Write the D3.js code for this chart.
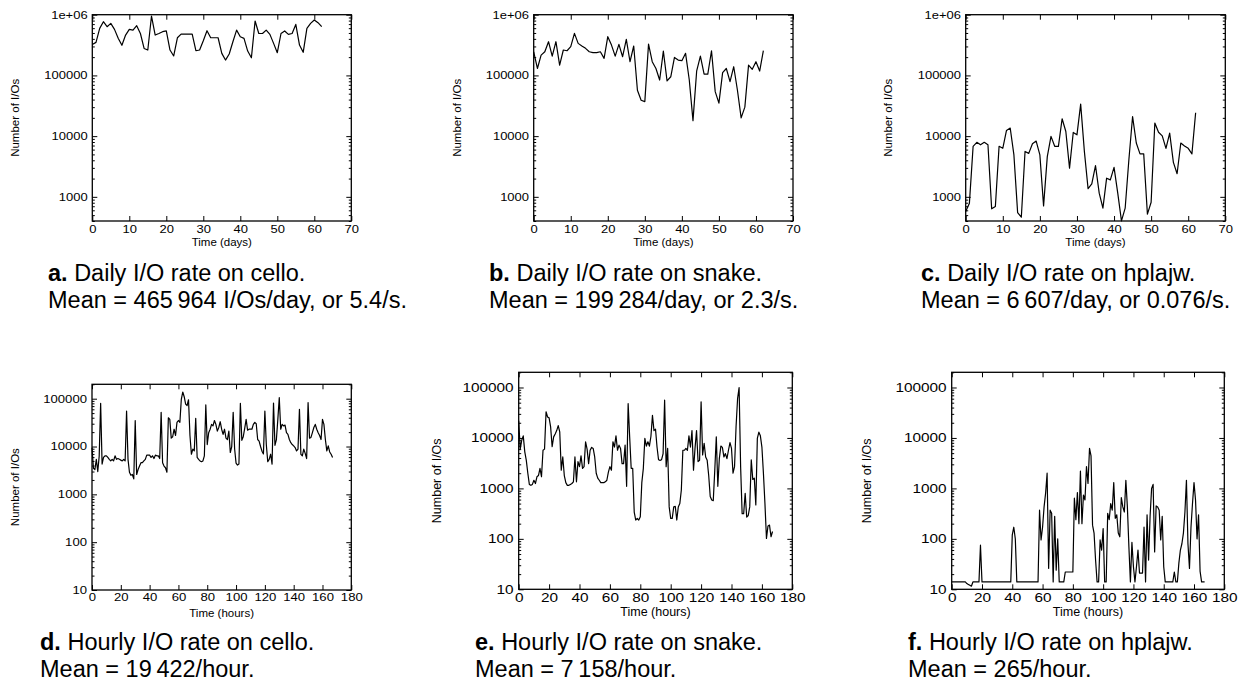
<!DOCTYPE html>
<html>
<head>
<meta charset="utf-8">
<script src="https://cdn.jsdelivr.net/npm/d3@7"></script>
<style>
  body { margin: 0; background: #fff; }
  svg { display: block; font-family: "Liberation Sans", Arial, Helvetica, sans-serif; }
</style>
</head>
<body>
<svg width="1238" height="681"></svg>
<script>
// daily I/O counts, one value per day (day 0..62)
var celloDaily = [324000,350000,596000,767000,634000,720000,573000,408000,313000,462000,
  573000,558000,660000,490000,278000,262000,950000,462000,490000,525000,
  540000,262000,209000,417000,478000,478000,478000,478000,255000,262000,
  372000,545000,417000,417000,417000,231000,179000,225000,359000,558000,
  434000,408000,252000,195000,787000,490000,490000,558000,474000,337000,
  237000,490000,540000,474000,490000,692000,316000,240000,596000,720000,
  817000,738000,634000];
var snakeDaily = [245000,130000,216000,245000,359000,208000,359000,148000,262000,255000,
  297000,492000,337000,305000,279000,245000,237000,237000,245000,191000,
  434000,316000,208000,325000,203000,392000,168000,305000,57000,39000,
  37000,328000,168000,130000,84000,251000,81000,95000,198000,179000,
  175000,231000,84000,18000,119000,208000,105000,105000,255000,54000,
  35000,111000,130000,79000,139000,57000,20000,30000,148000,126000,
  168000,118000,255000];
var hplajwDaily = [573,787,6800,7900,7200,7900,7200,635,693,6800,
  6300,12400,13600,4900,552,462,5600,5200,7500,8300,
  4900,710,4600,9900,6800,6800,19300,11900,2970,11500,
  10500,33600,5600,1360,1640,3280,1150,650,2030,1900,
  3050,1150,402,650,4070,21000,7700,5100,5100,518,
  816,16400,11600,10100,6300,11200,3700,2400,7700,6900,
  6300,5100,24300];

// hourly I/O counts, one value per hour (hour 0..167)
var celloHourly = [9500,3500,3300,5400,3000,6300,80000,4300,5900,6400,
  6400,5900,5400,5000,5400,5000,6400,5400,5600,5400,
  5200,5000,5400,5000,55000,5400,2900,2500,2600,2100,
  35000,2600,3300,3900,4600,4600,5000,5400,6600,6600,
  6600,5900,6400,5600,6600,6400,6400,5600,52000,4600,
  3900,3600,2900,40000,37000,15000,16000,23000,17000,32000,
  35000,32000,97000,138000,110000,77000,72000,95000,17000,6900,
  8800,8100,39000,5900,5400,5000,4800,5000,6400,74000,
  11000,19500,23000,29000,27000,35000,29000,21000,25000,33000,
  23000,18000,23000,15000,14000,21000,7500,10000,52000,9000,
  4500,4100,4300,80000,13500,16000,24000,37000,22000,23000,
  23000,23000,29000,32000,30000,14000,13000,10000,8000,7000,
  55000,11000,4800,5400,6900,4300,81000,10600,14000,37000,
  105000,23000,29000,27000,28000,19500,18000,14000,12000,11000,
  10300,9500,8100,8800,60000,6900,6400,8800,7200,5600,
  83000,15000,15500,19500,25000,29000,23000,19500,17000,14000,
  37000,29000,14000,8100,10300,7700,6900,5900];
var snakeHourly = [22000,6000,9000,11000,5300,3600,2000,1200,1150,1200,
  1450,1250,1700,1800,2500,1700,5700,6000,33000,26000,
  25000,16600,6700,10500,12000,14000,17600,13200,2300,4200,
  1800,1300,1150,1150,1200,1250,1350,4200,1350,3400,
  2700,4400,2500,2700,8400,6000,3100,5700,6500,6200,
  4200,2000,1600,1450,1300,1300,1300,1350,1450,2100,
  2700,2300,8400,6600,11000,5700,7200,6200,3100,3100,
  7200,1100,48000,10500,2500,2500,340,236,255,236,
  275,1300,2500,9800,6900,8400,6900,10800,28000,14000,
  15000,6600,3700,3600,3700,4900,56000,2700,6200,430,
  255,255,430,440,236,430,500,930,5700,5700,
  6200,5700,11000,6600,14000,2300,6200,14000,3400,3600,
  52000,4600,7800,4200,3600,1800,690,590,570,2300,
  10500,1100,3900,6900,6500,4200,4900,3900,5700,8100,
  6200,2000,2700,16600,60000,100000,2700,315,315,800,
  270,290,430,3700,1500,1600,470,9800,13000,11000,
  6600,2000,500,102,180,187,110,140];
var hplajwHourly = [14,14,14,14,14,14,14,14,14,14,
  13,12.5,12,11.5,14,14,14,14,14,75,
  14,14,14,14,14,14,14,14,14,14,
  14,14,14,14,14,14,14,14,14,14,
  120,170,100,14,14,14,14,14,14,14,
  14,14,14,14,14,14,14,14,370,95,
  170,430,800,2000,26,370,320,14,280,24,
  100,14,14,14,14,22,22,22,22,22,
  22,640,240,830,200,2200,200,740,590,2700,
  1250,6200,4400,187,130,38,14,14,95,60,
  160,14,14,320,240,500,370,1300,255,300,
  130,110,660,430,340,1450,430,70,14,85,
  28,14,28,60,21,21,21,170,14,300,
  38,280,1000,1200,55,450,430,370,95,280,
  28,14,14,14,14,14,14,22,14,14,
  33,60,80,130,340,1450,80,26,170,500,
  1300,590,100,300,23,14,14,14];

// tick values
var dailyXTicks = [0,10,20,30,40,50,60,70];
var hourlyXTicks = [0,20,40,60,80,100,120,140,160,180];
var dailyYTicks = [1000,10000,100000,1000000];
var hourlyYTicks = [10,100,1000,10000,100000];

// captions
var captionLetters = ["a.","b.","c.","d.","e.","f."];
var captionTitles = [" Daily I/O rate on cello."," Daily I/O rate on snake."," Daily I/O rate on hplajw.",
  " Hourly I/O rate on cello."," Hourly I/O rate on snake."," Hourly I/O rate on hplajw."];
var captionMeans = ["Mean = 465\u2009964 I/Os/day, or 5.4/s.","Mean = 199\u2009284/day, or 2.3/s.",
  "Mean = 6\u2009607/day, or 0.076/s.","Mean = 19\u2009422/hour.","Mean = 7\u2009158/hour.","Mean = 265/hour."];

var svg = d3.select("svg");

var daily = {xDomain: [0, 70], yDomain: [400, 1e6], xTicks: dailyXTicks, yTicks: dailyYTicks, xTitle: "Time (days)"};
var hourly = {xDomain: [0, 180], yDomain: [10, 2e5], xTicks: hourlyXTicks, yTicks: hourlyYTicks, xTitle: "Time (hours)"};

// layout of the six panels; the gnuplot text is a bit wider than tall, hence sx
var panels = [
  {kind: daily, data: celloDaily, left: 92.3, right: 351.3, top: 14.7, bottom: 221,
   fs: 11, sx: 1.18, tfs: 11.5, titleDy: 24.8, ylabX: 19, capX: 48, capY: 281},
  {kind: daily, data: snakeDaily, left: 533.7, right: 793, top: 14.7, bottom: 221,
   fs: 11, sx: 1.18, tfs: 11.5, titleDy: 24.8, ylabX: 461, capX: 489, capY: 281},
  {kind: daily, data: hplajwDaily, left: 965.7, right: 1225.3, top: 14.7, bottom: 221,
   fs: 11, sx: 1.18, tfs: 11.5, titleDy: 24.8, ylabX: 892, capX: 921, capY: 281},
  {kind: hourly, data: celloHourly, left: 92, right: 351.3, top: 384.3, bottom: 590,
   fs: 10.5, sx: 1.25, tfs: 11.5, titleDy: 27, ylabX: 19, capX: 40, capY: 650},
  {kind: hourly, data: snakeHourly, left: 518.7, right: 792.3, top: 372.3, bottom: 589.3,
   fs: 12, sx: 1.28, tfs: 12.5, titleDy: 26.8, ylabX: 441, capX: 475, capY: 650},
  {kind: hourly, data: hplajwHourly, left: 951.7, right: 1224.3, top: 372.3, bottom: 589.3,
   fs: 12, sx: 1.28, tfs: 12.5, titleDy: 27, ylabX: 871, capX: 908, capY: 650}
];

function yFormat(d) { return d === 1e6 ? "1e+06" : d3.format("d")(d); }

function cleanAxis(sel) {
  sel.select(".domain").remove();
  sel.attr("font-family", null);
  sel.selectAll("line").attr("stroke", "#000").attr("stroke-width", 1);
  sel.selectAll("text").attr("fill", "#000");
}

panels.forEach(function(p, i) {
  var k = p.kind;
  var x = d3.scaleLinear().domain(k.xDomain).range([p.left, p.right]);
  var y = d3.scaleLog().domain(k.yDomain).range([p.bottom, p.top]);
  var minor = y.ticks().filter(function(v) { return k.yTicks.indexOf(v) < 0; });
  var g = svg.append("g");

  // left axis with labels, inward major + minor ticks
  g.append("g").attr("transform", "translate(" + p.left + ",0)")
    .call(d3.axisLeft(y).tickValues(k.yTicks).tickFormat(yFormat).tickSize(-5).tickPadding(4))
    .call(cleanAxis)
    .attr("font-size", p.fs)
    .selectAll("text").attr("transform", "scale(" + p.sx + ",1)");
  g.append("g").attr("transform", "translate(" + p.left + ",0)")
    .call(d3.axisLeft(y).tickValues(minor).tickFormat("").tickSize(-2.5))
    .call(cleanAxis);
  // mirrored right ticks
  g.append("g").attr("transform", "translate(" + p.right + ",0)")
    .call(d3.axisRight(y).tickValues(k.yTicks).tickFormat("").tickSize(-5))
    .call(cleanAxis);
  g.append("g").attr("transform", "translate(" + p.right + ",0)")
    .call(d3.axisRight(y).tickValues(minor).tickFormat("").tickSize(-2.5))
    .call(cleanAxis);
  // bottom axis + mirrored top ticks
  g.append("g").attr("transform", "translate(0," + p.bottom + ")")
    .call(d3.axisBottom(x).tickValues(k.xTicks).tickSize(-5).tickPadding(4))
    .call(cleanAxis)
    .attr("font-size", p.fs)
    .selectAll("text").attr("transform", "scale(" + p.sx + ",1)");
  g.append("g").attr("transform", "translate(0," + p.top + ")")
    .call(d3.axisTop(x).tickValues(k.xTicks).tickFormat("").tickSize(-5))
    .call(cleanAxis);

  // frame
  g.append("rect")
    .attr("x", p.left).attr("y", p.top)
    .attr("width", p.right - p.left).attr("height", p.bottom - p.top)
    .attr("fill", "none").attr("stroke", "#000").attr("stroke-width", 1.3);

  // data line
  var line = d3.line()
    .x(function(d, j) { return x(j); })
    .y(function(d) { return y(d); });
  g.append("path")
    .datum(p.data)
    .attr("d", line)
    .attr("fill", "none")
    .attr("stroke", "#000")
    .attr("stroke-width", 1.2)
    .attr("stroke-linejoin", "round");

  // axis titles
  g.append("text")
    .attr("x", (p.left + p.right) / 2)
    .attr("y", p.bottom + p.titleDy)
    .attr("text-anchor", "middle")
    .attr("font-size", p.tfs)
    .text(k.xTitle);
  g.append("text")
    .attr("transform", "translate(" + p.ylabX + "," + (p.top + p.bottom) / 2 + ") rotate(-90)")
    .attr("text-anchor", "middle")
    .attr("font-size", p.tfs)
    .text("Number of I/Os");

  // caption
  var cap = g.append("text").attr("x", p.capX).attr("y", p.capY).attr("font-size", 23.5);
  cap.append("tspan").attr("font-weight", "bold").text(captionLetters[i]);
  cap.append("tspan").text(captionTitles[i]);
  g.append("text").attr("x", p.capX).attr("y", p.capY + 27).attr("font-size", 23.5).text(captionMeans[i]);
});
</script>
</body>
</html>
